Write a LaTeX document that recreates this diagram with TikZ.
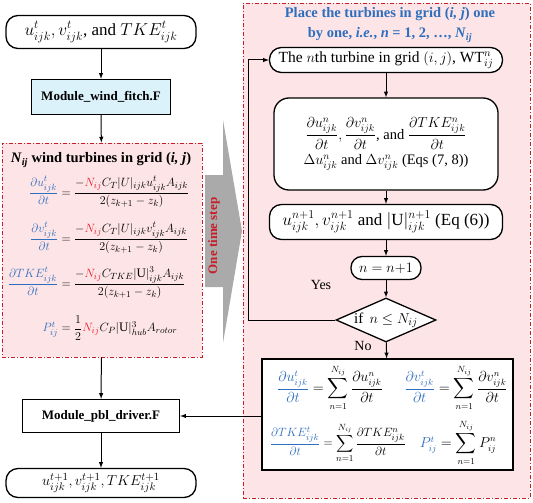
\documentclass[tikz,border=0pt]{standalone}
\usepackage{amsmath}
\usepackage{fontspec}
\setmainfont{Liberation Serif}
\usetikzlibrary{positioning,shapes.geometric,arrows}

\definecolor{zonefill}{RGB}{253,228,230}
\definecolor{zonered}{RGB}{200,30,40}
\definecolor{modcyan}{RGB}{220,242,250}
\definecolor{eqblue}{RGB}{46,110,190}
\definecolor{eqred}{RGB}{230,30,40}
\definecolor{stepgray}{RGB}{170,170,170}

\newcommand{\lb}[1]{{\color{eqblue}#1}}
\newcommand{\lr}[1]{{\color{eqred}#1}}
\newcommand{\fsz}[1]{\fontsize{#1}{1.2\dimexpr#1pt}\selectfont}

\tikzset{
zone/.style={
  draw=zonered,
  fill=zonefill,
  line width=0.9pt,
  dash pattern=on 4pt off 2pt on 1pt off 2pt
  },
termbox/.style={
  draw,
  fill=white,
  line width=1.3pt,
  rounded corners=#1,
  align=center,
  inner sep=1pt
  },
termbox/.default=12pt,
modbox/.style={
  draw,
  fill=white,
  line width=1.3pt,
  font=\fsz{13}\bfseries,
  inner sep=1pt
  },
eqline/.style={
  anchor=west,
  inner sep=0pt,
  font=\fsz{13}
  },
flow/.style={->,line width=1pt}
}

\begin{document}
\begin{tikzpicture}[x=1pt,y=-1pt,>=latex,font=\fsz{14}]
\useasboundingbox (0,0) rectangle (533,503);

% zones and time step arrow
\node[zone,minimum width=200pt,minimum height=214pt] (zoneL) at (102,250) {};
\node[zone,minimum width=287pt,minimum height=495pt] (zoneR) at (386.5,250.5) {};

\fill[stepgray] (205,175) -- (223,175) -- (223,120) -- (242,231) -- (223,343)
  -- (223,287) -- (205,287) -- cycle;
\node[rotate=90,text=zonered,font=\fsz{13}\bfseries] (tstep) at (214,236) {One time step};

% left column
\node[termbox,minimum width=190pt,minimum height=33pt,font=\fsz{17}] (uin) at (101,32)
  {$u^t_{ijk}, v^t_{ijk}$, and $TKE^t_{ijk}$};
\node[modbox,fill=modcyan,minimum width=139pt,minimum height=35pt] (wind) at (101,97)
  {Module\_wind\_fitch.F};

\node[font=\fsz{14.5}\bfseries] (titleL) at (101,160)
  {\textit{N}\textsubscript{\textit{ij}} wind turbines in grid (\textit{i, j})};
\node[eqline] (eqU) at (12,192) {$\makebox[46pt][r]{$\displaystyle\lb{\frac{\partial u^t_{ijk}}{\partial t}}$} = \dfrac{-\lr{N_{ij}}C_T|U|_{ijk}u^t_{ijk}A_{ijk}}{2(z_{k+1}-z_k)}$};
\node[eqline] (eqV) at (12,238) {$\makebox[46pt][r]{$\displaystyle\lb{\frac{\partial v^t_{ijk}}{\partial t}}$} = \dfrac{-\lr{N_{ij}}C_T|U|_{ijk}v^t_{ijk}A_{ijk}}{2(z_{k+1}-z_k)}$};
\node[eqline] (eqK) at (12,283) {$\makebox[46pt][r]{$\displaystyle\lb{\frac{\partial TKE^t_{ijk}}{\partial t}}$} = \dfrac{-\lr{N_{ij}}C_{TKE}|\mathrm{U}|^3_{ijk}A_{ijk}}{2(z_{k+1}-z_k)}$};
\node[eqline] (eqP) at (12,328) {$\makebox[46pt][r]{$\lb{P^t_{ij}}$} = \dfrac{1}{2}\lr{N_{ij}}C_P|\mathrm{U}|^3_{hub}A_{rotor}$};

\node[modbox,minimum width=157pt,minimum height=33pt] (pbl) at (101,416)
  {Module\_pbl\_driver.F};
\node[termbox,minimum width=190pt,minimum height=29pt,font=\fsz{15}] (uout) at (101,483)
  {$u^{t+1}_{ijk}, v^{t+1}_{ijk}, TKE^{t+1}_{ijk}$};

% right column
\node[align=center,text=eqblue,font=\fontsize{14.5}{20}\selectfont\bfseries] (titleR) at (390,25)
  {Place the turbines in grid (\textit{i, j}) one\\
   by one, \textit{i.e.}, \textit{n} = 1, 2, \ldots, \textit{N}\textsubscript{\textit{ij}}};
\node[termbox,minimum width=233pt,minimum height=25pt,font=\fsz{15.5}] (nth) at (386,60)
  {The $n$th turbine in grid $(i,j)$, WT$^n_{ij}$};
\node[termbox=15pt,minimum width=224pt,minimum height=92pt,font=\fsz{14.5}] (deriv) at (386,144)
  {$\dfrac{\partial u^n_{ijk}}{\partial t}, \dfrac{\partial v^n_{ijk}}{\partial t}$, and $\dfrac{\partial TKE^n_{ijk}}{\partial t}$\\[4pt]
   $\Delta u^n_{ijk}$ and $\Delta v^n_{ijk}$ (Eqs (7, 8))};
\node[termbox,minimum width=233pt,minimum height=35pt,font=\fsz{17}] (upd) at (386,222)
  {$u^{n+1}_{ijk}, v^{n+1}_{ijk}$ and $|\mathrm{U}|^{n+1}_{ijk}$ (Eq (6))};
\node[termbox=11pt,minimum width=70pt,minimum height=23pt,font=\fsz{14.5}] (incr) at (386,268)
  {$n = n{+}1$};
\node[diamond,draw,fill=white,line width=1.3pt,aspect=2.27,inner sep=0pt,
  minimum width=100pt,minimum height=44pt,font=\fsz{15}] (check) at (386,320)
  {\makebox[0pt]{if\, $n \le N_{ij}$}};
\node[draw,fill=white,line width=1.3pt,minimum width=251pt,minimum height=111pt] (sumbox) at (387.5,414.5) {};

\node[font=\fsz{13.5}] (sum1) at (330,388) {$\lb{\dfrac{\partial u^t_{ijk}}{\partial t}} = \displaystyle\sum_{n=1}^{N_{ij}}\frac{\partial u^n_{ijk}}{\partial t}$};
\node[font=\fsz{13.5}] (sum2) at (456,388) {$\lb{\dfrac{\partial v^t_{ijk}}{\partial t}} = \displaystyle\sum_{n=1}^{N_{ij}}\frac{\partial v^n_{ijk}}{\partial t}$};
\node[font=\fsz{12.5}] (sum3) at (338,443) {$\lb{\dfrac{\partial TKE^t_{ijk}}{\partial t}} = \displaystyle\sum_{n=1}^{N_{ij}}\frac{\partial TKE^n_{ijk}}{\partial t}$};
\node[font=\fsz{13.5}] (sum4) at (458,443) {$\lb{P^t_{ij}} = \displaystyle\sum_{n=1}^{N_{ij}}P^n_{ij}$};

\node (yes) at (321,285) {Yes};
\node (no) at (363,346) {No};

% connectors
\draw[flow] (uin) -- (wind);
\draw[flow] (wind) -- (zoneL);
\draw[flow] (zoneL) -- (pbl);
\draw[flow] (pbl) -- (uout);

\draw[flow] (nth) -- (deriv);
\draw[flow] (deriv) -- (upd);
\draw[flow] (upd) -- (incr);
\draw[flow] (incr) -- (check);
\draw[flow] (check) -- (sumbox);

\coordinate (loopc) at (248,320);
\draw[flow] (check.west) -- (loopc) |- (nth.west);
\draw[flow] (sumbox.west |- pbl.east) -- (pbl.east);

\end{tikzpicture}
\end{document}
